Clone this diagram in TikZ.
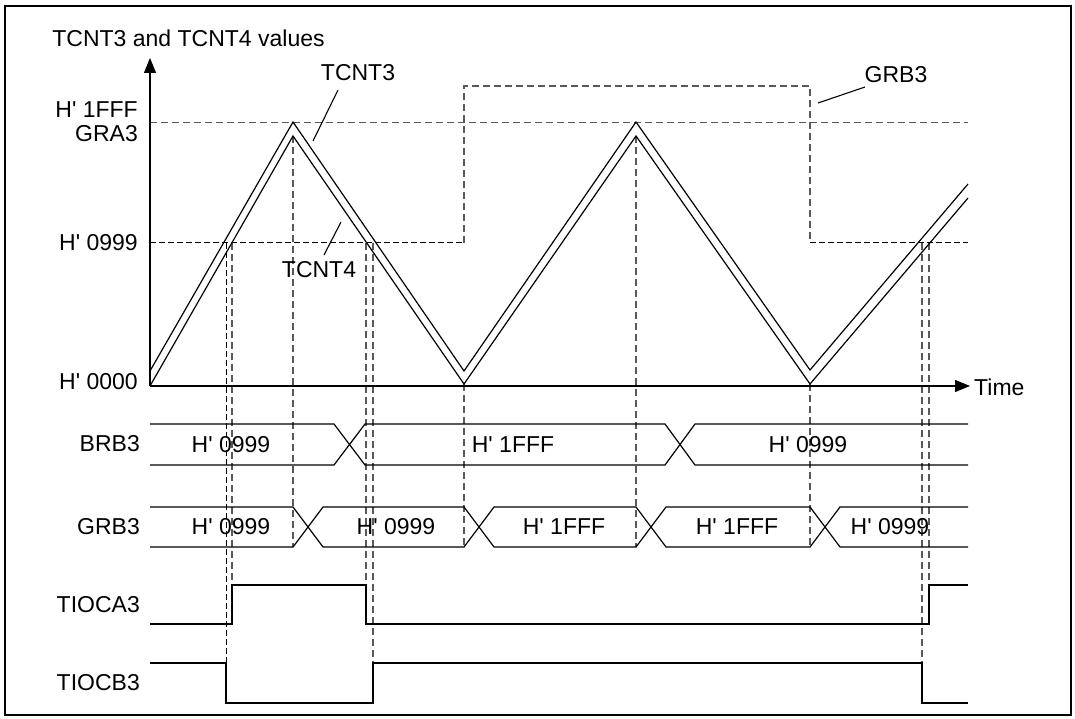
\documentclass[tikz,border=0pt]{standalone}
\usepackage{fontspec}
\newfontfamily\arialf{Liberation Sans}
\usetikzlibrary{arrows.meta}
\begin{document}
\begin{tikzpicture}[x=1pt,y=-1pt,
  lbl/.style={font=\arialf\fontsize{23}{27}\selectfont, inner sep=0pt},
  sig/.style={line width=1.2pt, line join=miter},
  dsh/.style={line width=1.1pt, black!65, dash pattern=on 7pt off 4pt},
  dshk/.style={line width=1pt, black, dash pattern=on 6pt off 3pt},
  axis/.style={line width=1.3pt, -{Triangle[length=15pt,width=12pt]}},
  leader/.style={line width=1.1pt}
]
\useasboundingbox (0,0) rectangle (1075,719);
\draw[line width=2.5pt] (5,6) rectangle (1071,715);

% ---- dashed reference lines ----
\draw[dsh] (150,122.5) -- (968,122.5);
\draw[dshk] (150,243) -- (464,243);
\draw[dsh] (464,243) -- (464,86) -- (810,86) -- (810,243);
\draw[dshk] (810,243) -- (968,243);
% vertical projections
\draw[dshk] (226,243) -- (226,663);
\draw[dsh] (232,243) -- (232,624);
\draw[dsh] (293,136) -- (293,547);
\draw[dsh] (366,243) -- (366,624);
\draw[dsh] (373,243) -- (373,663);
\draw[dsh] (464,384) -- (464,547);
\draw[dsh] (636,136) -- (636,547);
\draw[dsh] (810,384) -- (810,547);
\draw[dsh] (922,243) -- (922,663);
\draw[dsh] (929,243) -- (929,624);

% ---- axes ----
\coordinate (org) at (150,386);
\coordinate (ytop) at (150,58);
\coordinate (xend) at (970,386);
\draw[axis] (org) -- (ytop);
\draw[axis] (org) -- (xend);
\node[lbl, anchor=west] (time) at (974,387) {Time};
\node[lbl] (title) at (188.5,38) {TCNT3 and TCNT4 values};
\node[lbl, anchor=east] (l1fff) at (138,110) {H' 1FFF};
\node[lbl, anchor=east] (lgra) at (138,134) {GRA3};
\node[lbl, anchor=east] (l0999) at (138,243) {H' 0999};
\node[lbl, anchor=east] (l0000) at (138,382) {H' 0000};

% ---- counters ----
\draw[sig] (150,371) -- (293,122) -- (464,371) -- (636,122) -- (810,370) -- (968,184);
\draw[sig] (150,386) -- (293,136) -- (464,384) -- (636,136) -- (810,384) -- (968,198);

\node[lbl] (tc3) at (358,73) {TCNT3};
\coordinate (tc3p) at (313,141);
\draw[leader] (tc3p) -- (338,90);
\node[lbl] (tc4) at (319,270) {TCNT4};
\coordinate (tc4p) at (341,222);
\draw[leader] (tc4p) -- (324,255);
\node[lbl] (grb3t) at (896,75) {GRB3};
\coordinate (grb3p) at (818,103);
\draw[leader] (grb3p) -- (865,87);

% ---- BRB3 bus ----
\node[lbl, anchor=east] (brb) at (140,444) {BRB3};
\draw[sig] (150,424) -- (334,424) -- (365,465) -- (665,465) -- (695,424) -- (968,424);
\draw[sig] (150,465) -- (334,465) -- (365,424) -- (665,424) -- (695,465) -- (968,465);
\node[lbl] (b1) at (231,444.5) {H' 0999};
\node[lbl] (b2) at (513,444.5) {H' 1FFF};
\node[lbl] (b3) at (808,444.5) {H' 0999};

% ---- GRB3 bus ----
\node[lbl, anchor=east] (grb) at (140,527) {GRB3};
\draw[sig] (150,507) -- (293,507) -- (323,547) -- (464,547) -- (494,507) -- (636,507) -- (666,547) -- (810,547) -- (840,507) -- (968,507);
\draw[sig] (150,547) -- (293,547) -- (323,507) -- (464,507) -- (494,547) -- (636,547) -- (666,507) -- (810,507) -- (840,547) -- (968,547);
\node[lbl] (g1) at (231,527) {H' 0999};
\node[lbl] (g2) at (396,527) {H' 0999};
\node[lbl] (g3) at (564,527) {H' 1FFF};
\node[lbl] (g4) at (737,527) {H' 1FFF};
\node[lbl] (g5) at (890,527) {H' 0999};

% ---- TIOCA3 ----
\node[lbl, anchor=east] (ta) at (140,605) {TIOCA3};
\draw[sig] (150,624) -- (232,624) -- (232,585) -- (366,585) -- (366,624) -- (929,624) -- (929,585) -- (968,585);

% ---- TIOCB3 ----
\node[lbl, anchor=east] (tb) at (140,683) {TIOCB3};
\draw[sig] (150,663) -- (226,663) -- (226,703) -- (373,703) -- (373,663) -- (922,663) -- (922,703) -- (968,703);
\end{tikzpicture}
\end{document}
